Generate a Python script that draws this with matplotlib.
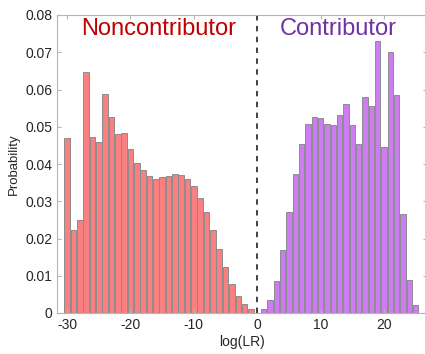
import matplotlib
matplotlib.use("Agg")
import matplotlib.pyplot as plt
import numpy as np

plt.rcParams['font.family'] = ['Liberation Sans', 'DejaVu Sans']

nonc_x = list(range(-30, 0))
nonc_p = [0.0471, 0.0223, 0.0251, 0.0646, 0.0473, 0.0458, 0.0589, 0.0527, 0.0481, 0.0483,
          0.0441, 0.0403, 0.0385, 0.0369, 0.0361, 0.0364, 0.0368, 0.0372, 0.0371, 0.0359,
          0.0340, 0.0310, 0.0272, 0.0224, 0.0173, 0.0123, 0.0077, 0.0046, 0.0024, 0.0012]
contr_x = list(range(1, 26))
contr_p = [0.0012, 0.0036, 0.0086, 0.0168, 0.0271, 0.0373, 0.0455, 0.0508, 0.0527, 0.0523,
           0.0508, 0.0504, 0.0532, 0.0560, 0.0504, 0.0453, 0.0581, 0.0557, 0.0730, 0.0446,
           0.0702, 0.0584, 0.0267, 0.0088, 0.0022]
xticks = [-30, -20, -10, 0, 10, 20]
yticks = [0, 0.01, 0.02, 0.03, 0.04, 0.05, 0.06, 0.07, 0.08]

fig = plt.figure(figsize=(4.25, 3.54), dpi=100)
ax = fig.add_axes([57/425, 41/354, 370/425, 298/354])
ax.bar(nonc_x, nonc_p, width=0.85, color='#F88080', edgecolor='#8C8C8C', linewidth=0.7)
ax.bar(contr_x, contr_p, width=0.85, color='#CE7CF3', edgecolor='#8C8C8C', linewidth=0.7)
ax.axvline(0, color='#333333', linestyle=(0, (3, 3)), linewidth=1.3)

ax.set_xlim(-31.6, 26.8)
ax.set_ylim(0, 0.08)
ax.set_xticks(xticks)
ax.set_xticklabels([str(t) for t in xticks])
ax.set_yticks(yticks)
ax.set_yticklabels(['0'] + [f'{t:.2f}' for t in yticks[1:]])
for s in ax.spines.values():
    s.set_color('#B5B5B5')
    s.set_linewidth(0.8)
ax.tick_params(direction='in', top=True, right=True, length=3, color='#B5B5B5',
               labelcolor='#262626', labelsize=10)
ax.set_xlabel('log(LR)', fontsize=10, color='#262626', labelpad=2)
ax.set_ylabel('Probability', fontsize=9.5, color='#262626', labelpad=4)

ax.text(-15.5, 0.0763, 'Noncontributor', color='#C00000', fontsize=17, ha='center', va='center')
ax.text(12.8, 0.0763, 'Contributor', color='#7030A0', fontsize=17, ha='center', va='center')

fig.savefig('out.png', dpi=100)
